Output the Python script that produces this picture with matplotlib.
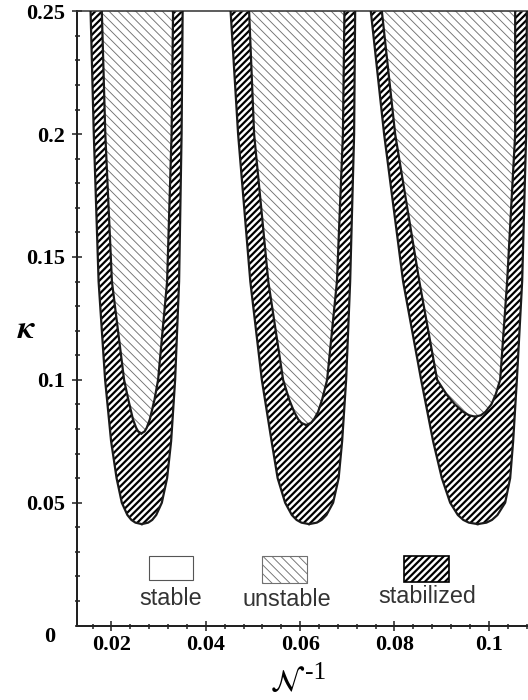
import matplotlib
matplotlib.use("Agg")
import matplotlib.pyplot as plt
from matplotlib.patches import Rectangle
from matplotlib.ticker import MultipleLocator

# kappa levels at which the outer (stabilized) boundary was read
kappa_outer = [0.25, 0.2, 0.14, 0.1, 0.075, 0.06, 0.05, 0.045, 0.043, 0.0419, 0.0413]
outer_left = [
    [0.01558, 0.01626, 0.01728, 0.01866, 0.01993, 0.02109, 0.02220, 0.02338, 0.02423, 0.02508, 0.02644],
    [0.04526, 0.04685, 0.04944, 0.05188, 0.05395, 0.05523, 0.05682, 0.05824, 0.05925, 0.06027, 0.06190],
    [0.07498, 0.07780, 0.08183, 0.08565, 0.08819, 0.09004, 0.09180, 0.09343, 0.09459, 0.09576, 0.09763],
]
outer_right = [
    [0.03509, 0.03487, 0.03434, 0.03350, 0.03265, 0.03180, 0.03068, 0.02949, 0.02864, 0.02779, 0.02644],
    [0.07166, 0.07144, 0.07060, 0.06975, 0.06890, 0.06816, 0.06699, 0.06557, 0.06455, 0.06354, 0.06190],
    [0.10806, 0.10791, 0.10706, 0.10594, 0.10515, 0.10452, 0.10346, 0.10182, 0.10066, 0.09949, 0.09763],
]

# inner (unstable) tongues
kappa_inner = [
    [0.25, 0.2, 0.14, 0.1, 0.092, 0.084, 0.0805, 0.079, 0.0782],
    [0.25, 0.2, 0.14, 0.1, 0.092, 0.087, 0.084, 0.0825, 0.0816],
    [0.25, 0.2, 0.14, 0.1, 0.094, 0.09, 0.087, 0.0856, 0.085],
]
inner_left = [
    [0.01796, 0.01870, 0.02010, 0.02268, 0.02357, 0.02455, 0.02523, 0.02567, 0.02635],
    [0.04918, 0.05024, 0.05325, 0.05639, 0.05767, 0.05872, 0.05957, 0.06025, 0.06127],
    [0.07732, 0.08014, 0.08527, 0.08904, 0.09105, 0.09281, 0.09455, 0.09578, 0.09710],
]
inner_right = [
    [0.03307, 0.03275, 0.03180, 0.02989, 0.02913, 0.02815, 0.02748, 0.02703, 0.02635],
    [0.06939, 0.06907, 0.06780, 0.06572, 0.06466, 0.06381, 0.06296, 0.06229, 0.06127],
    [0.10558, 0.10558, 0.10388, 0.10240, 0.10144, 0.10053, 0.09930, 0.09833, 0.09710],
]

xticks = [0.02, 0.04, 0.06, 0.08, 0.1]
xticklabels = ["0.02", "0.04", "0.06", "0.08", "0.1"]
yticks = [0.05, 0.1, 0.15, 0.2, 0.25]
yticklabels = ["0.05", "0.1", "0.15", "0.2", "0.25"]
legend_labels = ["stable", "unstable", "stabilized"]

plt.rcParams["mathtext.fontset"] = "stix"
DPI = 80
fig = plt.figure(figsize=(528 / DPI, 700 / DPI), dpi=DPI)
ax = fig.add_axes([77 / 528, 1 - 625.6 / 700, 1 - 77 / 528, (625.6 - 11.2) / 700])

serif = ["Liberation Serif", "DejaVu Serif"]
sans = ["Liberation Sans", "DejaVu Sans"]

for i in range(3):
    with plt.rc_context({"hatch.linewidth": 2.0}):
        ax.fill_betweenx(kappa_outer, outer_left[i], outer_right[i], facecolor="white",
                         edgecolor="black", hatch="////", linewidth=0, zorder=1)
    with plt.rc_context({"hatch.linewidth": 0.8}):
        ax.fill_betweenx(kappa_inner[i], inner_left[i], inner_right[i], facecolor="white",
                         edgecolor="#707070", hatch="\\\\\\", linewidth=0, zorder=2)
    for xs, ks in [(outer_left[i], kappa_outer), (outer_right[i], kappa_outer),
                   (inner_left[i], kappa_inner[i]), (inner_right[i], kappa_inner[i])]:
        ax.plot(xs, ks, color="#1a1a1a", lw=2.0, zorder=3, solid_joinstyle="round")

ax.set_xlim(0.0127, 0.1083)
ax.set_ylim(0, 0.25)

ax.set_xticks(xticks)
ax.set_xticklabels(xticklabels, fontfamily=serif, fontweight="bold", fontsize=20)
ax.set_yticks(yticks)
ax.set_yticklabels(yticklabels, fontfamily=serif, fontweight="bold", fontsize=20)
ax.xaxis.set_minor_locator(MultipleLocator(0.004))
ax.yaxis.set_minor_locator(MultipleLocator(0.01))
ax.tick_params(which="major", direction="inout", length=9, width=1.4, color="#222222", pad=6)
ax.tick_params(which="minor", direction="inout", length=4.5, width=1.4, color="#222222")
ax.tick_params(axis="x", which="major", pad=4)

ax.spines["right"].set_visible(False)
for s in ["left", "bottom"]:
    ax.spines[s].set_linewidth(1.8)
    ax.spines[s].set_color("#222222")
ax.spines["top"].set_linewidth(1.4)
ax.spines["top"].set_color("#333333")

ax.annotate("0", xy=(0, 0), xycoords="axes fraction", xytext=(-20, -10),
            textcoords="offset points", ha="right", va="center",
            fontfamily=serif, fontweight="bold", fontsize=20)

# axis titles
ax.text(-0.112, 0.483, r"$\boldsymbol{\kappa}$", transform=ax.transAxes,
        ha="center", va="center", fontsize=30)
ax.text(0.506, -0.106, r"$\mathcal{N}$", transform=ax.transAxes,
        ha="right", va="baseline", fontsize=28)
ax.text(0.506, -0.087, "-1", transform=ax.transAxes,
        ha="left", va="baseline", fontfamily=serif, fontsize=23)

# legend drawn under the tongues
boxes = [(0.160, 0.074, 0.097, 0.039), (0.410, 0.070, 0.099, 0.043), (0.725, 0.071, 0.099, 0.042)]
box_styles = [dict(facecolor="white", edgecolor="#555555", lw=1.0),
              dict(facecolor="white", edgecolor="#707070", hatch="\\\\\\", lw=1.0),
              dict(facecolor="white", edgecolor="black", hatch="////", lw=1.5)]
label_pos = [(0.208, 0.0335), (0.466, 0.032), (0.776, 0.0368)]
for (bx, by, bw, bh), st, (lx, ly), lab in zip(boxes, box_styles, label_pos, legend_labels):
    hl = 2.0 if st.get("hatch") == "////" else 0.8
    with plt.rc_context({"hatch.linewidth": hl}):
        ax.add_patch(Rectangle((bx, by), bw, bh, transform=ax.transAxes, clip_on=False, **st))
    ax.text(lx, ly, lab, transform=ax.transAxes, ha="center", va="baseline",
            fontfamily=sans, fontsize=21, color="#333333")

fig.savefig("out.png", dpi=DPI)
